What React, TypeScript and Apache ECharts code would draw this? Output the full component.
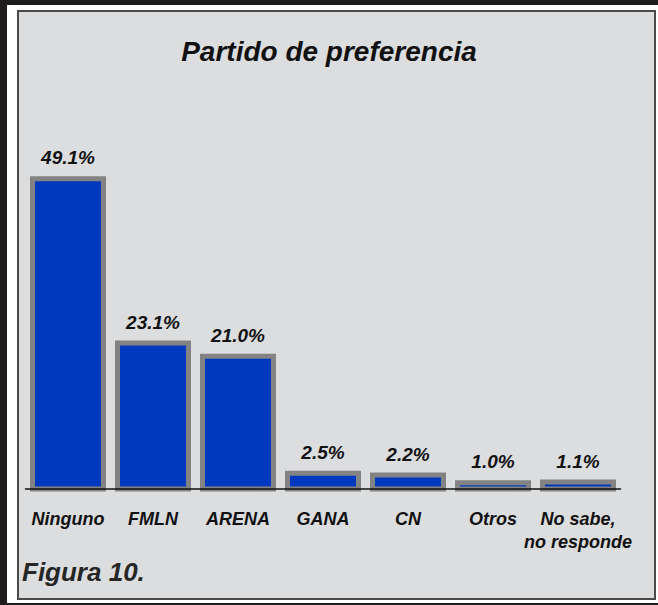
import React, { useEffect, useRef } from "react";
import * as echarts from "echarts";

const categories = ["Ninguno", "FMLN", "ARENA", "GANA", "CN", "Otros", "No sabe,\nno responde"];
const values = [49.1, 23.1, 21.0, 2.5, 2.2, 1.0, 1.1];
const titleText = "Partido de preferencia";
const footnote = "Figura 10.";

const FONT = "'Liberation Sans', Arial, sans-serif";
const BAR_W = 71;

export default function App() {
  const ref = useRef<HTMLDivElement>(null);
  useEffect(() => {
    if (!ref.current) return;
    const chart = echarts.init(ref.current, undefined, { renderer: "svg" });
    chart.setOption({
      animation: false,
      backgroundColor: "#ffffff",
      graphic: [
        { type: "rect", z: -10, shape: { x: 0, y: 0, width: 7, height: 605 }, style: { fill: "#1e1c1c" } },
        { type: "rect", z: -10, shape: { x: 0, y: 0, width: 658, height: 5 }, style: { fill: "#1e1c1c" } },
        { type: "rect", z: -10, shape: { x: 0, y: 603, width: 658, height: 2 }, style: { fill: "#1e1c1c" } },
        { type: "rect", z: -9, shape: { x: 18, y: 11, width: 637, height: 588 }, style: { fill: "#dcdddf", stroke: "#4a4a4a", lineWidth: 2 } },
        {
          type: "text",
          z: 5,
          left: 22,
          top: 559,
          style: { text: footnote, font: "italic bold 26px " + FONT, fill: "#262626" },
        },
      ],
      title: {
        text: titleText,
        left: 324,
        top: 32,
        textAlign: "center",
        textStyle: { fontFamily: FONT, fontStyle: "italic", fontWeight: "bold", fontSize: 28, color: "#111111" },
      },
      grid: { left: 25.5, right: 37.5, top: 173, bottom: 116, containLabel: false },
      xAxis: {
        type: "category",
        data: categories,
        z: 5,
        axisLine: { show: true, lineStyle: { color: "#111111", width: 1.5 } },
        axisTick: { show: false },
        axisLabel: {
          interval: 0,
          margin: 18,
          fontFamily: FONT,
          fontStyle: "italic",
          fontWeight: "bold",
          fontSize: 18,
          lineHeight: 23,
          color: "#111111",
        },
      },
      yAxis: { type: "value", min: 0, max: 50, show: false, splitLine: { show: false } },
      series: [
        {
          type: "custom",
          z: 2,
          data: values.map((v, i) => [i, v]),
          encode: { x: 0, y: 1 },
          renderItem: (params: any, api: any) => {
            const idx = api.value(0);
            const v = api.value(1);
            const top = api.coord([idx, v]);
            const base = api.coord([idx, 0]);
            return {
              type: "rect",
              shape: { x: top[0] - BAR_W / 2, y: top[1], width: BAR_W, height: base[1] - top[1] },
              style: { fill: "#0039bf", stroke: "#838383", lineWidth: 5 },
              textContent: {
                style: {
                  text: Number(v).toFixed(1) + "%",
                  font: "italic bold 19px " + FONT,
                  fill: "#111111",
                },
              },
              textConfig: { position: "top", distance: 9 },
            };
          },
        },
      ],
    });
    return () => chart.dispose();
  }, []);
  return <div ref={ref} style={{ position: "absolute", left: 0, top: 0, width: 658, height: 605 }} />;
}
